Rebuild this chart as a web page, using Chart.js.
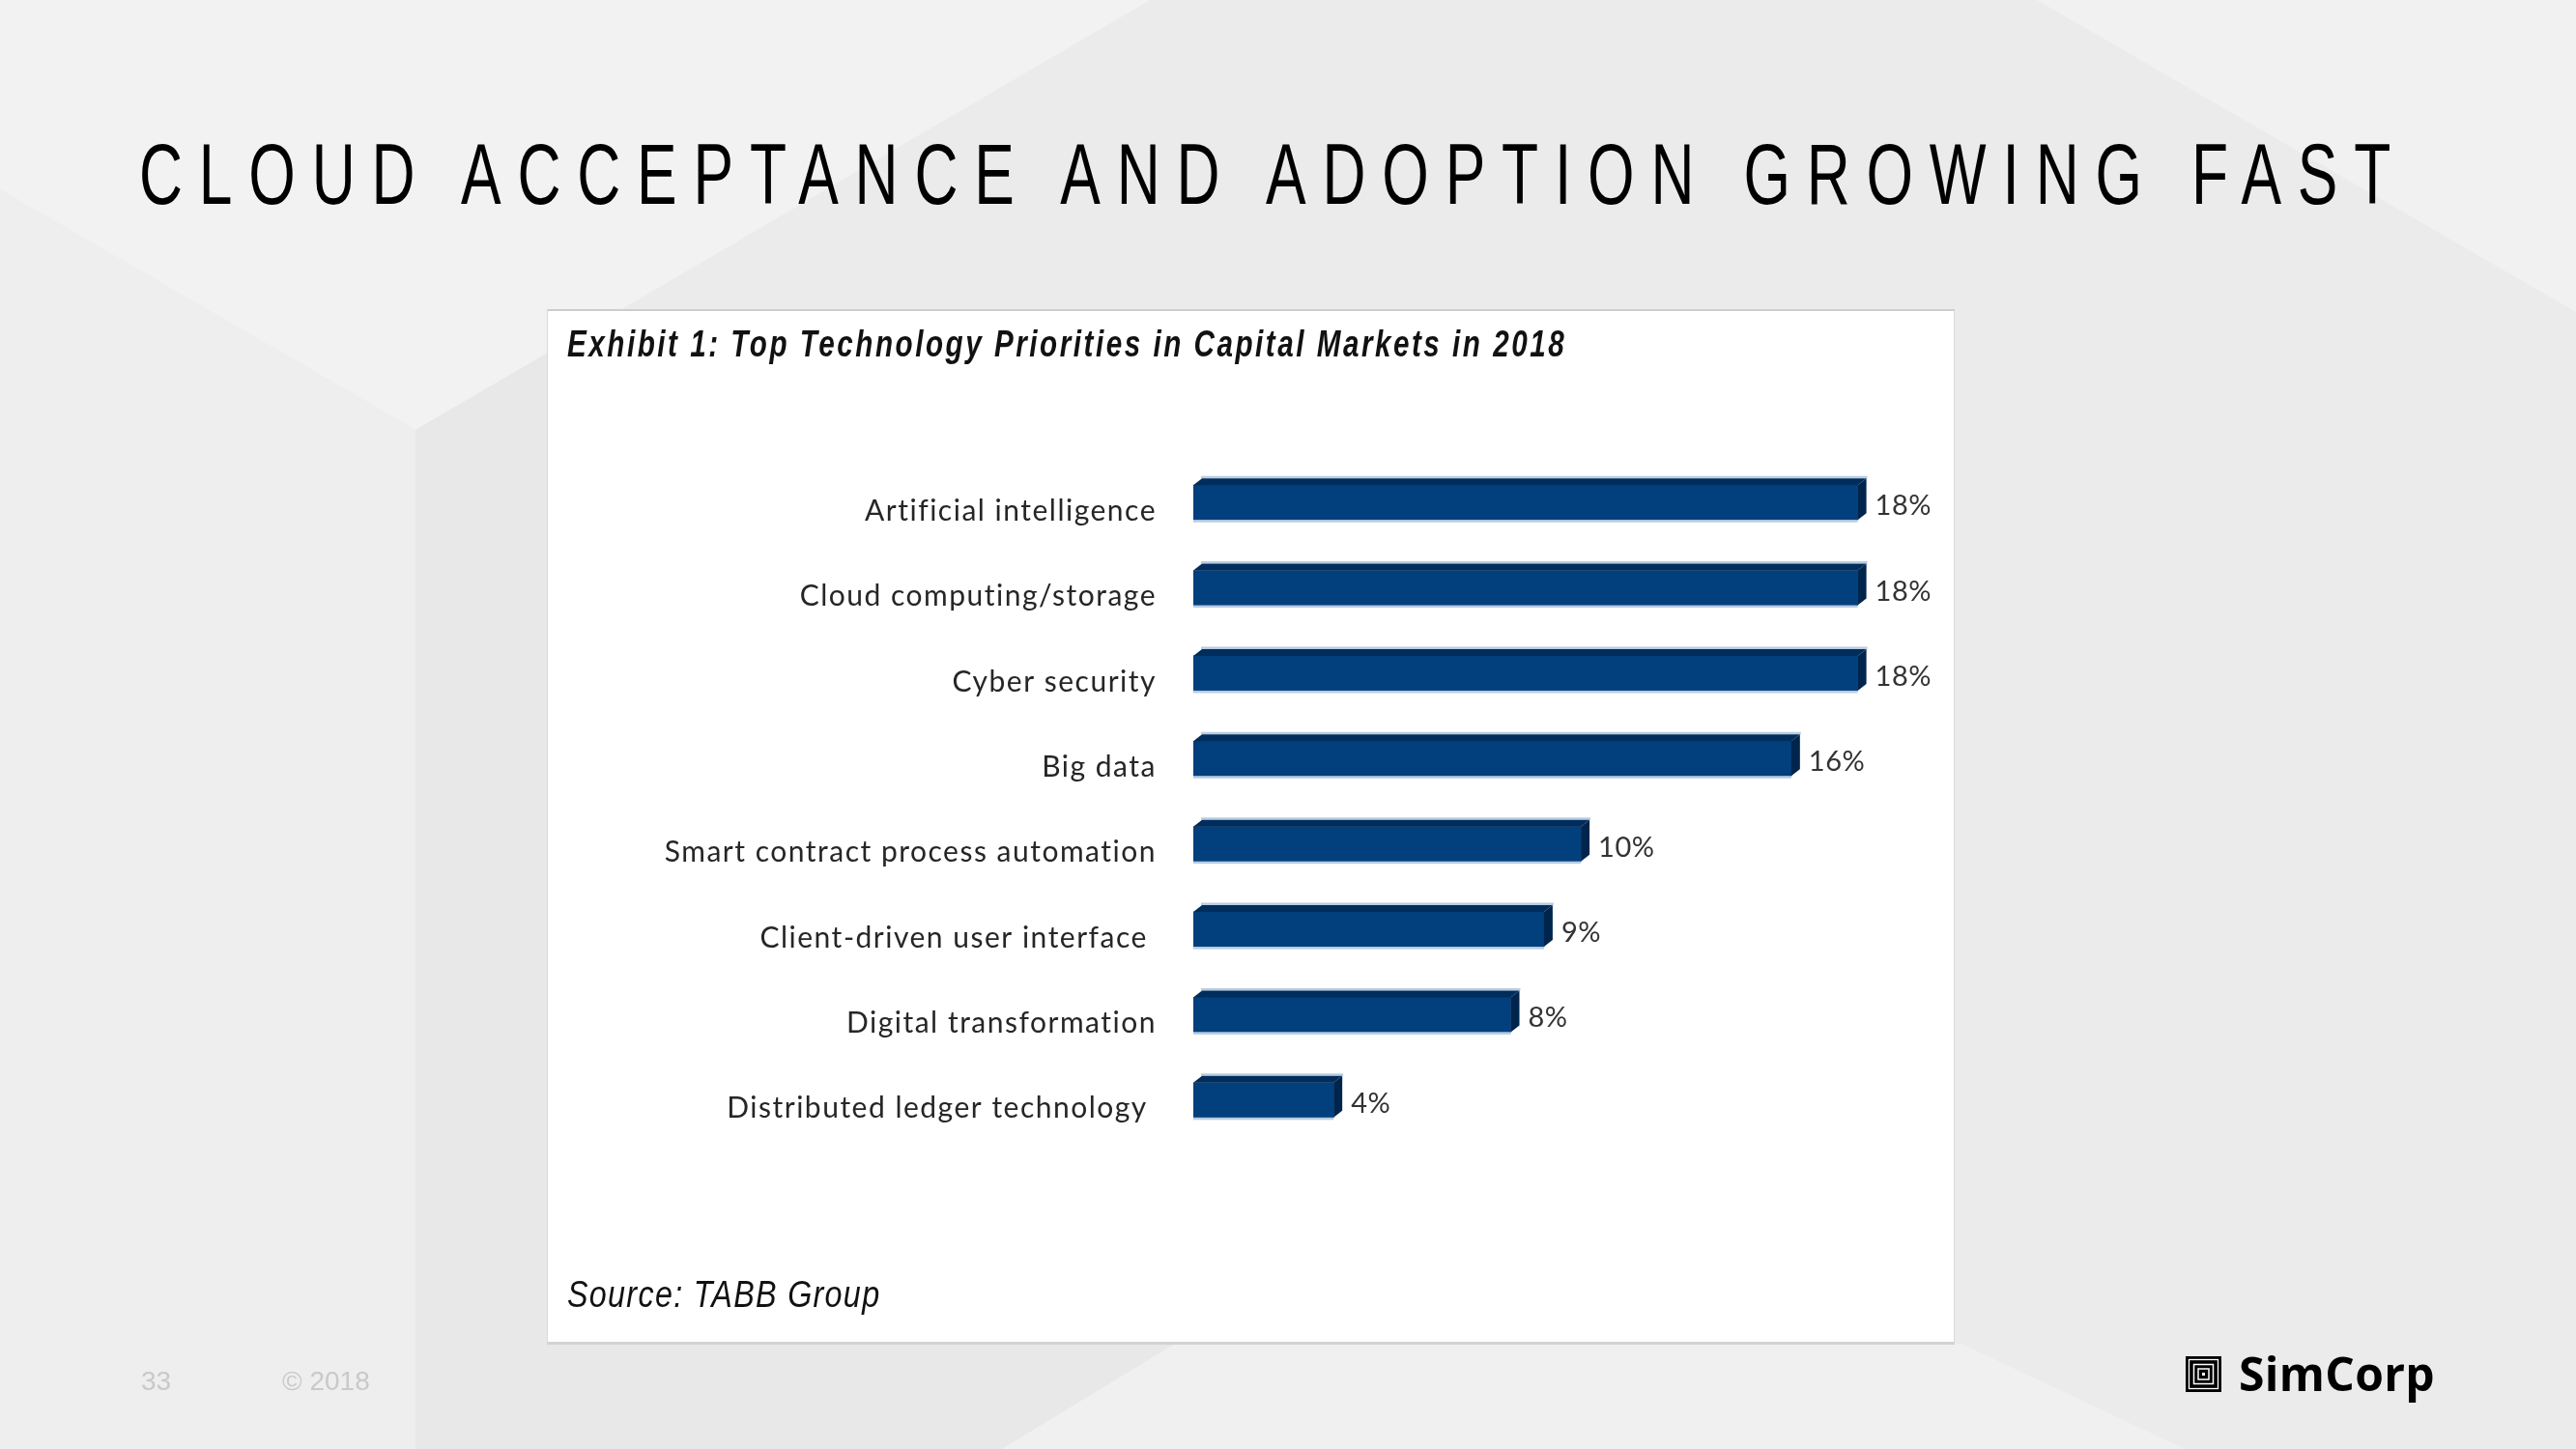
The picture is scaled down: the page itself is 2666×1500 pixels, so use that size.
<!DOCTYPE html>
<html><head><meta charset="utf-8">
<script src="https://cdn.jsdelivr.net/npm/chart.js@4.4.1/dist/chart.umd.min.js"></script>
<style>
html,body{margin:0;padding:0;}
body{width:2666px;height:1500px;position:relative;overflow:hidden;background:#ebebeb;}
#bg{position:absolute;left:0;top:0;}
#box{position:absolute;left:566px;top:320px;width:1455px;height:1067px;background:#fff;border:1px solid #dadada;border-top:2px solid #cdcdcd;border-bottom:3px solid #d2d2d2;}
#cv{position:absolute;left:0;top:0;}
.t{position:absolute;white-space:nowrap;line-height:1;transform-origin:0 0;}
#title{left:144px;top:135.7px;font-family:'Liberation Sans',Arial,sans-serif;font-size:89px;color:#000;}
#exh{left:587px;top:336.8px;font-family:'Liberation Sans',Arial,sans-serif;font-weight:bold;font-style:italic;font-size:38px;color:#111;}
#src{left:587px;top:1320.8px;font-family:'Liberation Sans',Arial,sans-serif;font-style:italic;font-size:38px;color:#111;}
#pg{left:146px;top:1416.3px;font-family:'Liberation Sans',Arial,sans-serif;font-size:28px;color:#c9c9c9;}
#cp{left:292px;top:1416.3px;font-family:'Liberation Sans',Arial,sans-serif;font-size:28px;color:#c9c9c9;}
#logo{left:2317px;top:1398.4px;font-family:'Open Sans',sans-serif;font-weight:bold;font-size:48px;color:#000;}
#icon{position:absolute;left:2262px;top:1404px;}
</style></head>
<body>
<svg id="bg" width="2666" height="1500">
  <rect x="0" y="0" width="2666" height="1500" fill="#ebebeb"/>
  <polygon points="0,0 1190,0 430,445 0,196" fill="#f2f2f2"/>
  <polygon points="0,196 430,445 430,1500 0,1500" fill="#eeeeee"/>
  <polygon points="430,445 566,366 566,1391 1216,1391 1037,1500 430,1500" fill="#e8e8e8"/>
  <polygon points="1216,1391 2030,1391 2261,1500 1037,1500" fill="#f0f0f0"/>
  <polygon points="2108,0 2666,0 2666,323" fill="#f1f1f1"/>
</svg>
<div id="box"></div>
<canvas id="cv" width="2666" height="1500"></canvas>
<div class="t" id="title">CLOUD ACCEPTANCE AND ADOPTION GROWING FAST</div>
<div class="t" id="exh">Exhibit 1: Top Technology Priorities in Capital Markets in 2018</div>
<div class="t" id="src">Source: TABB Group</div>
<div class="t" id="pg">33</div>
<div class="t" id="cp">© 2018</div>
<svg id="icon" width="37" height="37">
  <rect x="0" y="0" width="37" height="37" fill="#000"/>
  <rect x="3.5" y="3.5" width="30" height="30" fill="none" stroke="#fff" stroke-width="1.3"/>
  <rect x="8.5" y="8.5" width="20" height="20" fill="none" stroke="#fff" stroke-width="1.5"/>
  <rect x="13" y="13" width="11" height="11" fill="none" stroke="#fff" stroke-width="1.5"/>
  <rect x="17" y="17" width="3" height="3" fill="#fff"/>
</svg>
<div class="t" id="logo">SimCorp</div>
<script>
const categories = ['Artificial intelligence','Cloud computing/storage','Cyber security','Big data','Smart contract process automation','Client-driven user interface ','Digital transformation','Distributed ledger technology '];
const values = [18, 18, 18, 16.2, 10.5, 9.5, 8.6, 3.8];
const valueLabels = ['18%','18%','18%','16%','10%','9%','8%','4%'];

function fit(id, target, sx){
  const el = document.getElementById(id);
  sx = sx || 1;
  el.style.letterSpacing = '0px';
  el.style.transform = 'none';
  const w0 = el.offsetWidth;
  const n = el.textContent.length;
  const ls = (target / sx - w0) / Math.max(1, n - 1);
  el.style.letterSpacing = ls + 'px';
  if (sx !== 1) el.style.transform = 'scaleX(' + sx + ')';
}
fit('title', 2330, 0.7);
fit('exh', 1032, 0.78);
fit('src', 323, 0.85);
fit('logo', 203);

const bar3d = {
  id: 'bar3d',
  beforeDraw(chart){ chart.ctx.letterSpacing = '1.5px'; },
  afterDatasetsDraw(chart){
    const ctx = chart.ctx;
    const meta = chart.getDatasetMeta(0);
    const dx = 9, dy = 7;
    ctx.save();
    meta.data.forEach((bar, i) => {
      const p = bar.getProps(['x','y','base','height'], true);
      const x0 = p.base, x1 = p.x, yT = p.y - p.height/2, yB = p.y + p.height/2;
      ctx.fillStyle = '#b8cce2';
      ctx.beginPath();
      ctx.moveTo(x0 + dx - 1, yT - dy - 2.5); ctx.lineTo(x1 + dx + 1, yT - dy - 2.5);
      ctx.lineTo(x1 + dx + 1, yT - dy); ctx.lineTo(x0 + dx - 1, yT - dy); ctx.closePath(); ctx.fill();
      ctx.fillRect(x0, yB, x1 - x0, 2.5);
      ctx.fillStyle = '#012d5c';
      ctx.beginPath();
      ctx.moveTo(x0, yT); ctx.lineTo(x0 + dx, yT - dy); ctx.lineTo(x1 + dx, yT - dy); ctx.lineTo(x1, yT);
      ctx.closePath(); ctx.fill();
      ctx.fillStyle = '#00254d';
      ctx.beginPath();
      ctx.moveTo(x1, yT); ctx.lineTo(x1 + dx, yT - dy); ctx.lineTo(x1 + dx, yB - dy); ctx.lineTo(x1, yB);
      ctx.closePath(); ctx.fill();
      ctx.letterSpacing = '0.5px';
      ctx.font = '29px Lato';
      ctx.fillStyle = '#333';
      ctx.textAlign = 'left';
      ctx.textBaseline = 'alphabetic';
      ctx.fillText(valueLabels[i], x1 + dx + 9, p.y + 13);
    });
    ctx.restore();
  }
};

new Chart(document.getElementById('cv'), {
  type: 'bar',
  data: {
    labels: categories,
    datasets: [{ data: values, backgroundColor: '#02407d', borderWidth: 0, barThickness: 36 }]
  },
  options: {
    indexAxis: 'y',
    responsive: false,
    animation: false,
    events: [],
    layout: { padding: { left: 566, top: 476, right: 667, bottom: 317 } },
    plugins: { legend: { display: false }, tooltip: { enabled: false }, title: { display: false } },
    scales: {
      x: { display: false, min: 0, max: 20 },
      y: {
        grid: { display: false, drawTicks: false },
        border: { display: false },
        ticks: { font: { family: 'Lato', size: 30 }, color: '#262626', padding: 38, labelOffset: 9 },
        afterFit(s){ s.width = 669; }
      }
    }
  },
  plugins: [bar3d]
});
</script>
</body></html>
